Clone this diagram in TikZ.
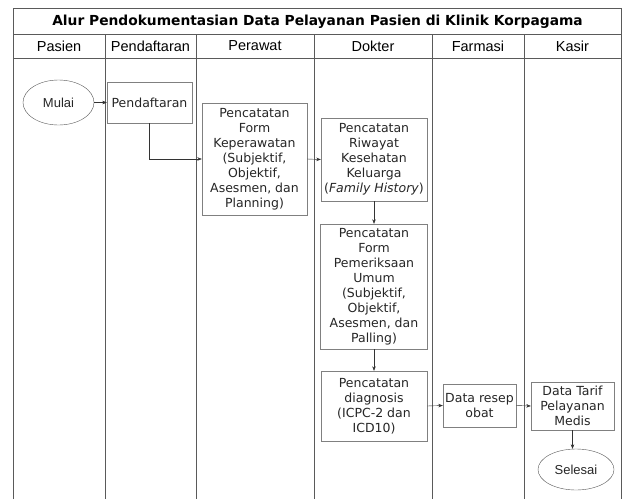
\documentclass[tikz,border=0pt]{standalone}
\usepackage{fontspec}
\setmainfont{DejaVu Sans}
\newfontfamily\headfont{Liberation Sans}
\usetikzlibrary{shapes.geometric,arrows.meta}

\definecolor{laneline}{HTML}{5A5A5A}
\definecolor{boxline}{HTML}{808080}

\tikzset{
    kotak/.style={draw=boxline, thin, fill=white, align=center, inner sep=1pt,
        text=black!85, font=\fontsize{12.5}{15}\selectfont},
    bulat/.style={ellipse, draw=laneline, thin, align=center, inner sep=0pt,
        text=black!85, font=\headfont\fontsize{13}{15}\selectfont},
    alur/.style={-{Stealth[length=4.5pt,width=3.5pt]}, thin, black!80},
    kolom/.style={font=\headfont\fontsize{14.5}{16}\selectfont}
}

\begin{document}
\begin{tikzpicture}[x=1pt, y=-1pt]
    \useasboundingbox (0,0) rectangle (622,499);

    % bingkai dan jalur
    \draw[laneline] (13,499) -- (13,8.5) -- (621,8.5) -- (621,499);
    \draw[laneline] (13,34) -- (621,34);
    \draw[laneline] (13,58) -- (621,58);
    \draw[laneline] (105,34) -- (105,499);
    \draw[laneline] (196,34) -- (196,499);
    \draw[laneline] (314,34) -- (314,499);
    \draw[laneline] (432,34) -- (432,499);
    \draw[laneline] (524,34) -- (524,499);

    % judul
    \node[font=\bfseries\fontsize{13.8}{15}\selectfont] (judul) at (317.5,21.5)
        {Alur Pendokumentasian Data Pelayanan Pasien di Klinik Korpagama};

    % kepala kolom
    \node[kolom] (hPasien) at (59,46) {Pasien};
    \node[kolom] (hDaftar) at (150.5,46) {Pendaftaran};
    \node[kolom] (hPerawat) at (255,46) {Perawat};
    \node[kolom] (hDokter) at (373,46) {Dokter};
    \node[kolom] (hFarmasi) at (478,46) {Farmasi};
    \node[kolom] (hKasir) at (572.5,46) {Kasir};

    % langkah-langkah
    \node[bulat, minimum width=71pt, minimum height=45pt] (mulai) at (58.5,102.5) {Mulai};
    \node[kotak, minimum width=85pt, minimum height=41pt] (daftar) at (149.5,102.5) {Pendaftaran};
    \node[kotak, minimum width=105pt, minimum height=112pt] (perawat) at (254.5,159)
        {Pencatatan\\Form\\Keperawatan\\(Subjektif,\\Objektif,\\Asesmen, dan\\Planning)};
    \node[kotak, minimum width=106pt, minimum height=83pt] (riwayat) at (374,159.5)
        {Pencatatan\\Riwayat\\Kesehatan\\Keluarga\\(\textit{Family History})};
    \node[kotak, minimum width=107pt, minimum height=125pt] (periksa) at (374,286.5)
        {Pencatatan\\Form\\Pemeriksaan\\Umum\\(Subjektif,\\Objektif,\\Asesmen, dan\\Palling)};
    \node[kotak, minimum width=106pt, minimum height=70pt] (diagnosis) at (374,406)
        {Pencatatan\\diagnosis\\(ICPC-2 dan\\ICD10)};
    \node[kotak, minimum width=73pt, minimum height=43pt] (resep) at (479.5,405.5)
        {Data resep\\obat};
    \node[kotak, minimum width=83pt, minimum height=48pt] (tarif) at (572.5,406)
        {Data Tarif\\Pelayanan\\Medis};
    \node[bulat, minimum width=76pt, minimum height=41pt] (selesai) at (576,469.5) {Selesai};

    % panah
    \draw[alur] (mulai) -- (daftar);
    \draw[alur] (daftar.south) |- (perawat.west);
    \draw[alur] (perawat.east) -- (riwayat.west);
    \draw[alur] (riwayat) -- (periksa);
    \draw[alur] (periksa) -- (diagnosis);
    \draw[alur] (diagnosis.east) -- (resep.west);
    \draw[alur] (resep.east) -- (tarif.west);
    \draw[alur] (tarif.south) -- (tarif.south |- selesai.north);
\end{tikzpicture}
\end{document}
